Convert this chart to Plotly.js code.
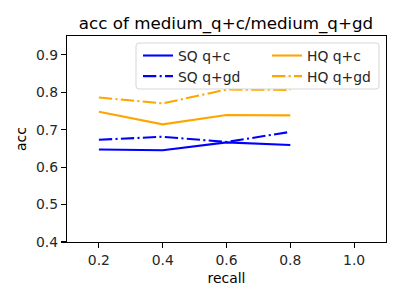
<!DOCTYPE html>
<html><head><meta charset="utf-8">
<script src="https://cdn.plot.ly/plotly-3.0.1.min.js"></script>
<style>html,body{margin:0;padding:0;background:#fff}#g{width:400px;height:300px}</style>
</head><body><div id="g"></div>
<script>
const recall = [0.2, 0.4, 0.6, 0.8];
const sqQC = [0.647, 0.645, 0.666, 0.659];
const sqQGD = [0.673, 0.681, 0.667, 0.694];
const hqQC = [0.748, 0.714, 0.739, 0.738];
const hqQGD = [0.786, 0.770, 0.807, 0.806];
const xTicks = [0.2, 0.4, 0.6, 0.8, 1.0];
const yTicks = [0.4, 0.5, 0.6, 0.7, 0.8, 0.9];

const dd = '13.3px,3.3px,2.1px,3.3px';
const lw = 2.08;
const traces = [
  {x: recall, y: sqQC, name: 'SQ q+c', mode: 'lines', line: {color: '#0000ff', width: lw}, legend: 'legend'},
  {x: recall, y: sqQGD, name: 'SQ q+gd', mode: 'lines', line: {color: '#0000ff', width: lw, dash: dd}, legend: 'legend2'},
  {x: recall, y: hqQC, name: 'HQ q+c', mode: 'lines', line: {color: '#ffa500', width: lw}, legend: 'legend3'},
  {x: recall, y: hqQGD, name: 'HQ q+gd', mode: 'lines', line: {color: '#ffa500', width: lw, dash: dd}, legend: 'legend4'}
];
const lf = {family: 'DejaVu Sans', size: 13.9, color: '#262626'};
function leg(x, y) {
  return {x: x, y: y, xanchor: 'left', yanchor: 'middle', itemwidth: 30,
    bgcolor: 'rgba(0,0,0,0)', borderwidth: 0, font: lf};
}
const c1 = 0.2226, c2 = 0.627, r1 = 0.9030, r2 = 0.8030;
const fx0 = 0.2163, fx1 = 0.978, fy0 = 0.7427, fy1 = 0.966, rx = 3/319, ry = 3/206;
const framePath = `M${fx0+rx},${fy1} L${fx1-rx},${fy1} Q${fx1},${fy1} ${fx1},${fy1-ry} L${fx1},${fy0+ry} Q${fx1},${fy0} ${fx1-rx},${fy0} L${fx0+rx},${fy0} Q${fx0},${fy0} ${fx0},${fy0+ry} L${fx0},${fy1-ry} Q${fx0},${fy1} ${fx0+rx},${fy1} Z`;
const layout = {
  width: 400, height: 300,
  margin: {l: 67, r: 14, t: 36, b: 58, pad: 0},
  paper_bgcolor: '#fff', plot_bgcolor: '#fff',
  font: {family: 'DejaVu Sans', size: 14, color: '#262626'},
  title: {text: 'acc of medium_q+c/medium_q+gd', font: {family: 'DejaVu Sans', size: 16.7, color: '#000'}, x: 0.565, xanchor: 'center', y: 0.905, yanchor: 'bottom'},
  xaxis: {range: [0.1, 1.1], tickvals: xTicks, ticktext: xTicks.map(v => v.toFixed(1)),
    showgrid: false, zeroline: false, showline: true, mirror: true, linecolor: '#000', linewidth: 1.1,
    ticks: 'outside', ticklen: 5, tickwidth: 1.1, tickcolor: '#000', tickfont: {size: 13.9, color: '#262626'},
    title: {text: 'recall', font: {size: 13.9, color: '#000'}, standoff: 6}},
  yaxis: {range: [0.4, 0.95], tickvals: yTicks, ticktext: yTicks.map(v => v.toFixed(1)),
    showgrid: false, zeroline: false, showline: true, mirror: true, linecolor: '#000', linewidth: 1.1,
    ticks: 'outside', ticklen: 5, tickwidth: 1.1, tickcolor: '#000', tickfont: {size: 13.9, color: '#262626'},
    title: {text: 'acc', font: {size: 13.9, color: '#000'}, standoff: 6}},
  showlegend: true,
  legend: leg(c1, r1), legend2: leg(c1, r2), legend3: leg(c2, r1), legend4: leg(c2, r2),
  shapes: [{type: 'path', xref: 'paper', yref: 'paper', path: framePath, layer: 'above',
    fillcolor: 'rgba(255,255,255,0.8)', line: {color: '#d6d6d6', width: 1}}]
};
Plotly.newPlot('g', traces, layout, {staticPlot: true, displayModeBar: false});
</script></body></html>
